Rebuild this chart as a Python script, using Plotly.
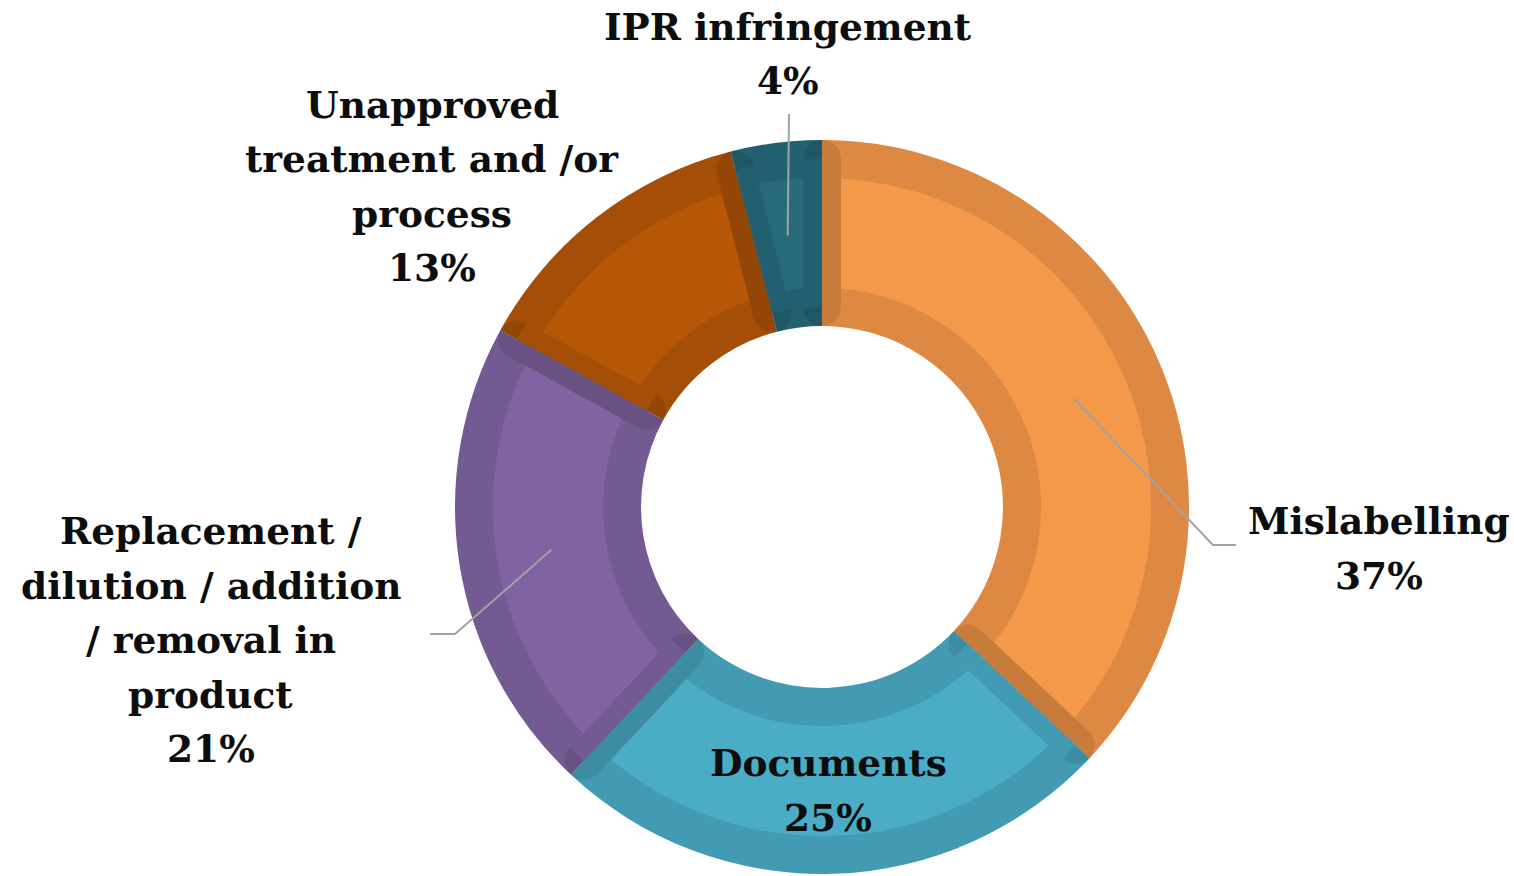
import math
import plotly.graph_objects as go

# ---- data ----
categories = ["Mislabelling", "Documents",
              "Replacement / dilution / addition / removal in product",
              "Unapproved treatment and /or process", "IPR infringement"]
values = [37, 25, 21, 13, 4]
label_lines = [["Mislabelling"], ["Documents"],
               ["Replacement /", "dilution / addition", "/ removal in", "product"],
               ["Unapproved", "treatment and /or", "process"],
               ["IPR infringement"]]
fill_colors = ["#F4984A", "#4BACC6", "#8064A2", "#B65708", "#276B7B"]

# ---- layout geometry (pixels, page coordinates) ----
W, H = 1514, 876
OFF = 0  # page body margin removed below
cx, cy = 822, 507
R_out, R_in, band = 367, 181, 19
FONT = "DejaVu Serif"
FS = 37.5
LINE_GAP = 54.5

def px(x):
    return (x - OFF) / W

def py(y):
    return 1 - (y - OFF) / H

def domain(radius):
    return dict(x=[px(cx - radius), px(cx + radius)],
                y=[py(cy + radius), py(cy - radius)])

fig = go.Figure()
# base ring (fill colours) covering the full visible annulus
fig.add_trace(go.Pie(values=values, labels=categories, sort=False,
                     direction="clockwise", rotation=0,
                     hole=R_in / R_out, domain=domain(R_out),
                     marker=dict(colors=fill_colors, line=dict(width=0)),
                     textinfo="none", hoverinfo="label+percent", showlegend=False))
# inset ring whose translucent stroke darkens each slice's own edges
R2 = R_out - band
fig.add_trace(go.Pie(values=values, labels=categories, sort=False,
                     direction="clockwise", rotation=0,
                     hole=(R_in + band) / R2, domain=domain(R2),
                     marker=dict(colors=fill_colors,
                                 line=dict(width=2 * band, color="rgba(0,0,0,0.095)")),
                     textinfo="none", hoverinfo="label+percent", showlegend=False))

# label placement (pixel centres of first line) and leader-line routing
label_pos = {
    0: (1379, 521),
    1: (828, 763),
    2: (211, 531),
    3: (432, 105),
    4: (788, 27),
}
leader = {
    0: [(1213, 545), (1236, 545)],
    2: [(455, 634), (430, 634)],
    4: [(789, 114)],
}

total = sum(values)
cum = 0
mid_angles = []
for v in values:
    mid_angles.append((cum + v / 2) / total * 2 * math.pi)
    cum += v

r_mid = (R_in + R_out) / 2
shapes = []
for i, pts in leader.items():
    a = mid_angles[i]
    sx, sy = cx + r_mid * math.sin(a), cy - r_mid * math.cos(a)
    path = f"M {px(sx)} {py(sy)}"
    for (x, y) in pts:
        path += f" L {px(x)} {py(y)}"
    shapes.append(dict(type="path", path=path, xref="paper", yref="paper",
                       line=dict(color="#A3A3A3", width=2), layer="above"))

annotations = []
for i, lines in enumerate(label_lines):
    x0, y0 = label_pos[i]
    pct = f"{round(values[i] / total * 100)}%"
    for k, t in enumerate(lines + [pct]):
        annotations.append(dict(x=px(x0), y=py(y0 + k * LINE_GAP), xref="paper", yref="paper",
                                text=t, showarrow=False, xanchor="center", yanchor="middle",
                                borderpad=0,
                                font=dict(family=FONT, size=FS, color="#0D0D0D", weight="bold")))

fig.update_layout(width=W, height=H, margin=dict(l=0, r=0, t=0, b=0),
                  paper_bgcolor="white", plot_bgcolor="white",
                  shapes=shapes, annotations=annotations)
fig.write_html("out.html", config={"displayModeBar": False},
               post_script="document.body.style.margin='0px';")
